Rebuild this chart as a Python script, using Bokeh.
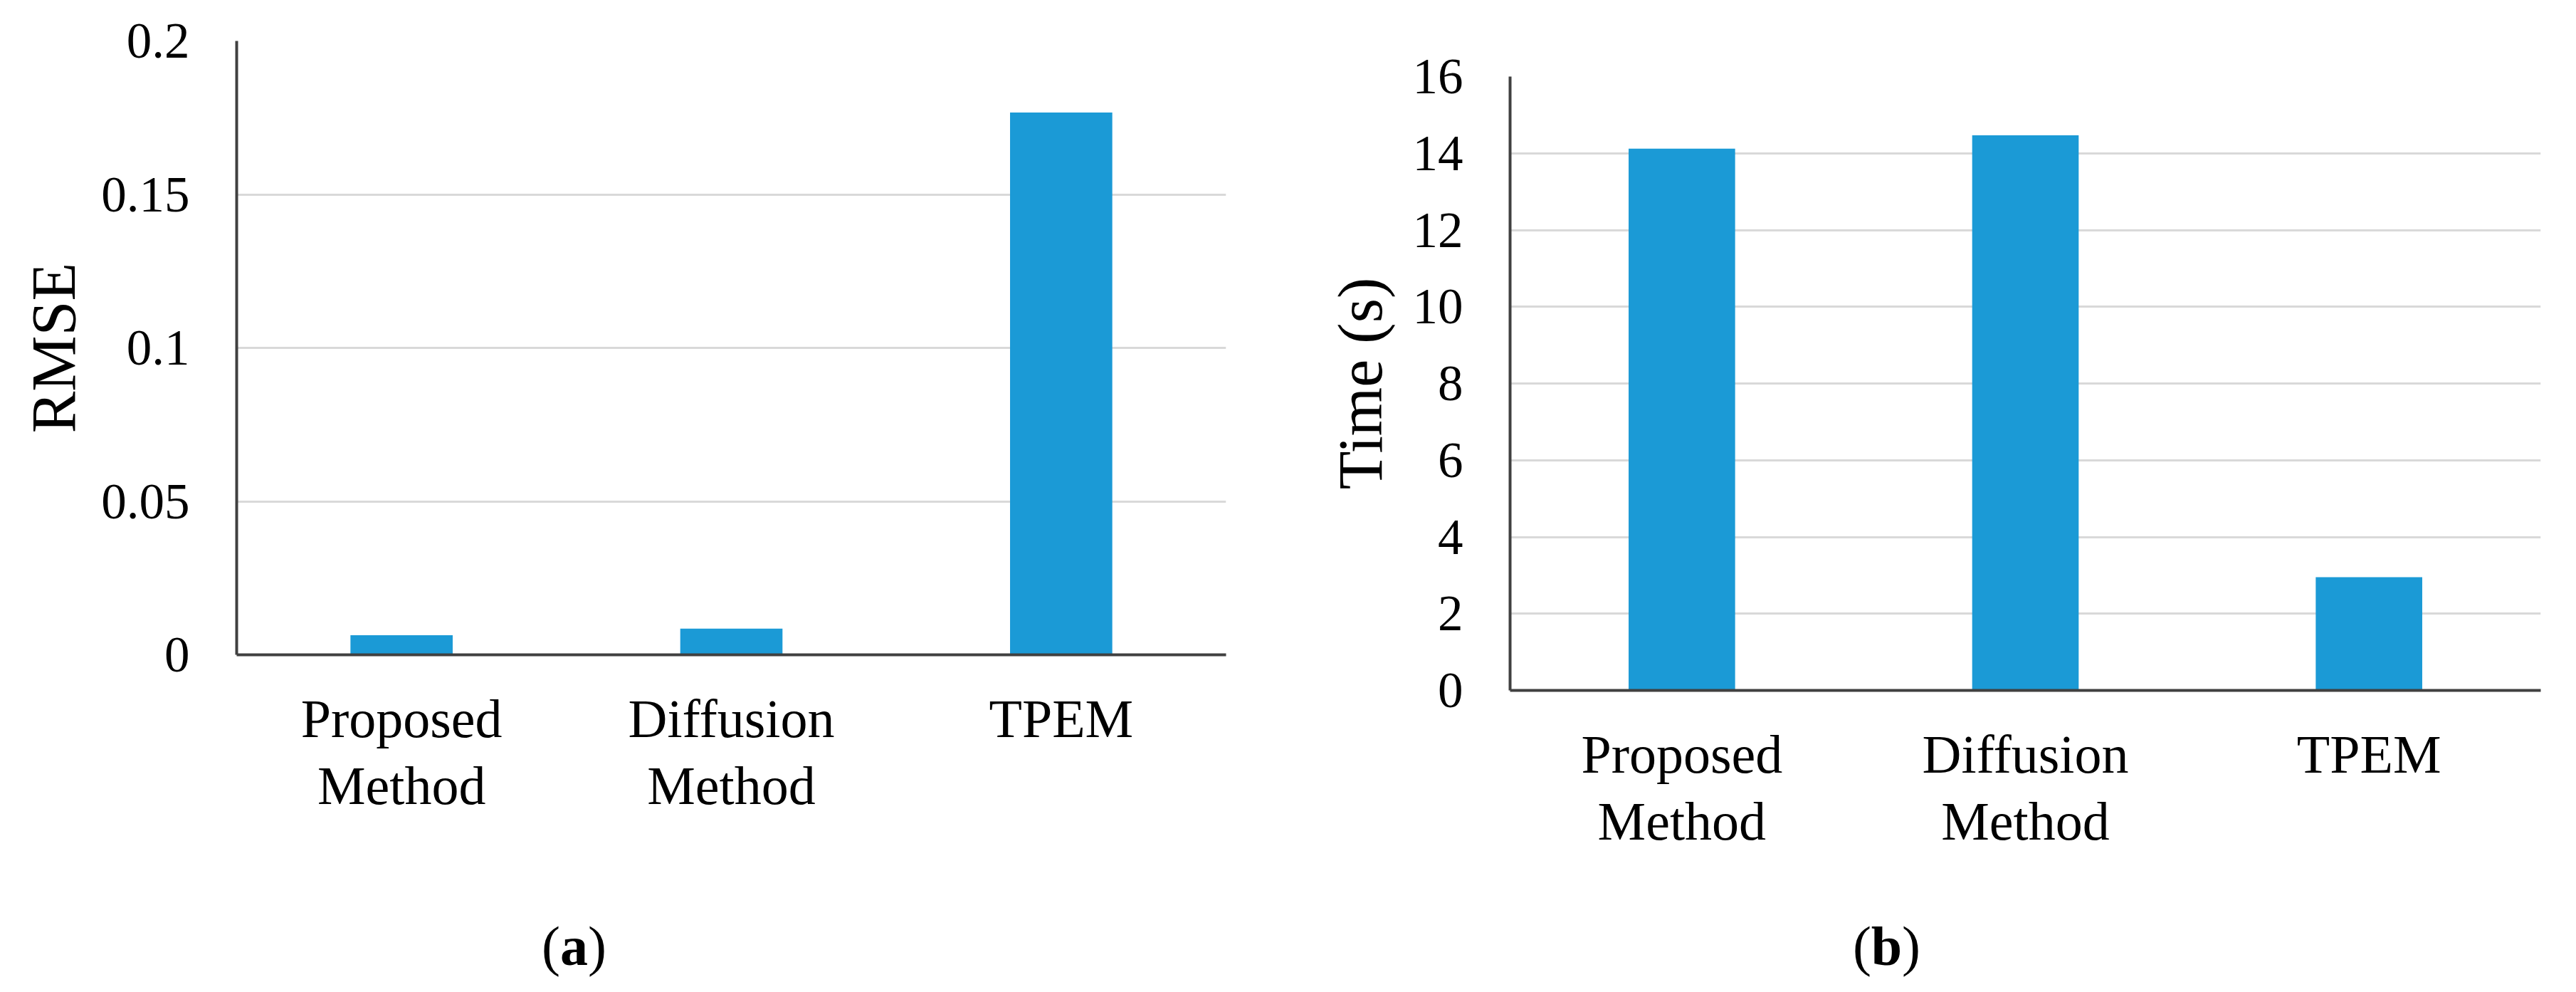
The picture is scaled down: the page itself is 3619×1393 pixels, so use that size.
from bokeh.plotting import figure
from bokeh.layouts import row, column
from bokeh.models import Range1d, FactorRange, FixedTicker, ColumnDataSource, Spacer
from bokeh.core.properties import value
from bokeh.embed import file_html
from bokeh.resources import INLINE

# ---- data ----
methods = ["Proposed\nMethod", "Diffusion\nMethod", "TPEM"]
rmse = [0.0064, 0.0085, 0.1767]
time_s = [14.12, 14.47, 2.95]
rmse_ticks = [0, 0.05, 0.1, 0.15, 0.2]
rmse_tick_labels = {0: "0", 0.05: "0.05", 0.1: "0.1", 0.15: "0.15", 0.2: "0.2"}
time_ticks = [0, 2, 4, 6, 8, 10, 12, 14, 16]

FONT = "Liberation Serif"
BAR = "#1B9AD6"
AXIS = "#404040"
GRID = "#D9D9D9"


def make_panel(values, ymax, ticks, tick_overrides, ylabel, height, borders, ylabel_standoff):
    bl, br, bt, bb = borders
    p = figure(width=1800, height=height, output_backend="svg", toolbar_location=None,
               x_range=FactorRange(*methods, range_padding=0),
               y_range=Range1d(0, ymax),
               min_border_left=bl, min_border_right=br, min_border_top=bt, min_border_bottom=bb)
    p.outline_line_color = None
    src = ColumnDataSource(dict(x=methods, top=values))
    p.vbar(x="x", top="top", width=0.31, source=src, color=BAR, line_color=None)

    p.xgrid.grid_line_color = None
    p.ygrid.ticker = FixedTicker(ticks=ticks)
    p.ygrid.grid_line_color = GRID
    p.ygrid.grid_line_width = 3

    ya = p.yaxis[0]
    ya.ticker = FixedTicker(ticks=ticks)
    if tick_overrides:
        ya.major_label_overrides = tick_overrides
    ya.axis_line_color = AXIS
    ya.axis_line_width = 4
    ya.major_tick_line_color = None
    ya.minor_tick_line_color = None
    ya.major_tick_out = 0
    ya.major_tick_in = 0
    ya.major_label_standoff = 66
    ya.major_label_text_font = FONT
    ya.major_label_text_font_size = "71px"
    ya.major_label_text_color = "#000000"
    ya.axis_label = ylabel
    ya.axis_label_text_font = FONT
    ya.axis_label_text_font_size = "88px"
    ya.axis_label_text_font_style = "normal"
    ya.axis_label_text_color = "#000000"
    ya.axis_label_standoff = ylabel_standoff

    xa = p.xaxis[0]
    xa.axis_line_color = AXIS
    xa.axis_line_width = 4
    xa.major_tick_line_color = None
    xa.minor_tick_line_color = None
    xa.major_tick_out = 0
    xa.major_tick_in = 0
    xa.major_label_standoff = 47
    xa.major_label_text_font = FONT
    xa.major_label_text_font_size = "76px"
    xa.major_label_text_color = "#000000"
    xa.major_label_text_line_height = 1.13
    return p


def make_caption(letter, height, bl, br, cx, cy, letter_w):
    frame_w = 1800 - bl - br
    c = figure(width=1800, height=height, output_backend="svg", toolbar_location=None,
               x_range=Range1d(0, frame_w), y_range=Range1d(0, height),
               min_border_left=bl, min_border_right=br, min_border_top=0, min_border_bottom=0)
    c.axis.visible = False
    c.grid.visible = False
    c.outline_line_color = None
    common = dict(x=[cx], y=[cy], text_font=value(FONT), text_font_size="78px",
                  text_color="#000000", text_baseline="middle")
    c.text(text=[letter], text_align="center", text_font_style="bold", **common)
    c.text(text=["("], text_align="right", x_offset=-letter_w / 2, **common)
    c.text(text=[")"], text_align="left", x_offset=letter_w / 2, **common)
    return c


pa = make_panel(rmse, 0.2, rmse_ticks, rmse_tick_labels, "RMSE", 1190, (332, 78, 57, 271), 15)
ca = make_caption("a", 195, 332, 78, 474, 57, 39)
pb = make_panel(time_s, 16, time_ticks, None, "Time (s)", 1200, (321, 31, 57, 281), 22)
cb = make_caption("b", 135, 321, 31, 529, 57, 43)

layout = row(column(pa, ca), column(Spacer(width=1800, height=50), pb, cb))
open("out.html", "w").write(file_html(layout, INLINE))
